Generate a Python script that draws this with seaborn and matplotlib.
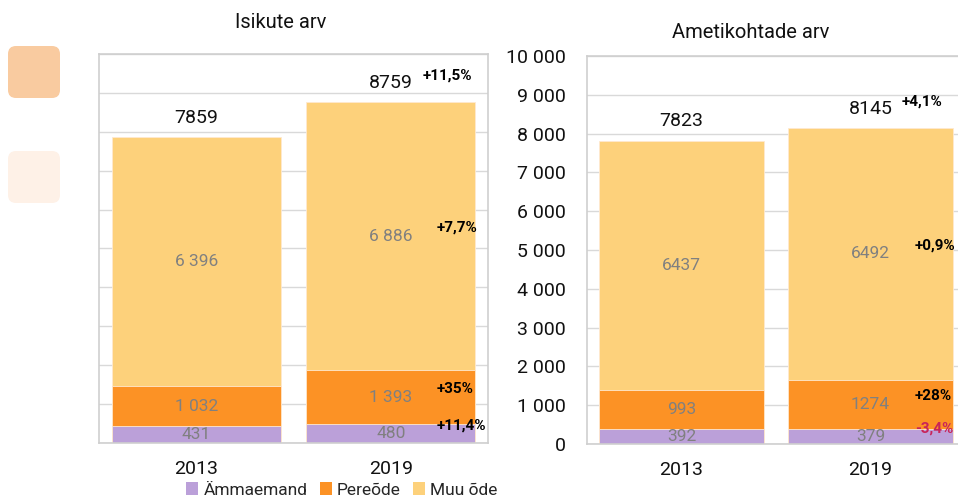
import numpy as np
import pandas as pd
import seaborn as sns
import matplotlib.pyplot as plt
from matplotlib.patches import Patch, FancyBboxPatch
from matplotlib.ticker import FuncFormatter, MultipleLocator

years = ["2013", "2019"]
series = ["Ämmaemand", "Pereõde", "Muu õde"]
colors = ["#BBA0D9", "#FC9225", "#FDD17B"]

isikud_ammaemand = [431, 480]
isikud_pereode = [1032, 1393]
isikud_muu = [6396, 6886]
isikud_total = [7859, 8759]
isikud_pct = ["+11,4%", "+35%", "+7,7%", "+11,5%"]

ametikohad_ammaemand = [392, 379]
ametikohad_pereode = [993, 1274]
ametikohad_muu = [6437, 6492]
ametikohad_total = [7823, 8145]
ametikohad_pct = ["-3,4%", "+28%", "+0,9%", "+4,1%"]

sns.set_theme(style="white")
plt.rcParams["font.family"] = ["Roboto", "DejaVu Sans"]

GRID = "#D9D9D9"
LABEL_GRAY = "#808080"
NEG = "#C8245A"
WIDTH = 0.87


def space_fmt(v):
    return f"{int(v):,}".replace(",", " ")


def stacked_panel(ax, parts, totals, pct, spaced):
    df = pd.DataFrame({"year": years})
    cum = np.zeros(len(years))
    cums = []
    for p in parts:
        cum = cum + np.array(p)
        cums.append(cum.copy())
    # draw from the top segment down so lower segments sit on top
    for i in reversed(range(len(parts))):
        df["v"] = cums[i]
        sns.barplot(data=df, x="year", y="v", color=colors[i], width=WIDTH,
                    saturation=1, ax=ax, zorder=2, edgecolor="#FFE9D0",
                    linewidth=0.6)
    ax.set_xlim(-0.5, 1.5)
    ax.set_ylim(0, 10000)
    ax.yaxis.set_major_locator(MultipleLocator(1000))
    ax.grid(axis="y", color=GRID, lw=1)
    ax.set_axisbelow(True)
    for s in ax.spines.values():
        s.set_color("#CFCFCF")
        s.set_linewidth(1.2)
    ax.set_xlabel("")
    ax.set_ylabel("")
    ax.tick_params(axis="x", length=0, pad=12, labelsize=14, labelcolor="#111111")

    # segment labels
    for i, p in enumerate(parts):
        base = cums[i] - np.array(p)
        for j, v in enumerate(p):
            txt = space_fmt(v) if spaced else str(v)
            ax.text(j, base[j] + v / 2, txt, ha="center", va="center",
                    color=LABEL_GRAY, fontsize=12.5, zorder=5)
    # totals
    for j, t in enumerate(totals):
        ax.annotate(str(t), (j, cums[-1][j]), xytext=(0, 14),
                    textcoords="offset points", ha="center", va="center",
                    fontsize=14, color="#111111")
    # change labels on the 2019 bar
    xr = 1 + WIDTH / 2 - 0.2
    for i, p in enumerate(parts):
        base = cums[i][1] - p[1]
        lab = pct[i]
        ax.annotate(lab, (xr, base + p[1] / 2), xytext=(0, 6),
                    textcoords="offset points", ha="left", va="center",
                    fontsize=11, fontweight="bold",
                    color=NEG if lab.startswith("-") else "black", zorder=6)
    ax.annotate(pct[-1], (xr - 0.07, cums[-1][1]), xytext=(0, 19),
                textcoords="offset points", ha="left", va="center",
                fontsize=11, fontweight="bold", color="black")


fig = plt.figure(figsize=(9.58, 5.01), dpi=100)
ax1 = fig.add_axes([99 / 958, 58 / 501, 389 / 958, 389 / 501])
ax2 = fig.add_axes([587 / 958, 57 / 501, 378 / 958, 388 / 501])

stacked_panel(ax1, [isikud_ammaemand, isikud_pereode, isikud_muu],
              isikud_total, isikud_pct, spaced=True)
ax1.tick_params(axis="y", length=0, labelleft=False)

stacked_panel(ax2, [ametikohad_ammaemand, ametikohad_pereode, ametikohad_muu],
              ametikohad_total, ametikohad_pct, spaced=False)
ax2.yaxis.set_major_formatter(FuncFormatter(lambda v, _: space_fmt(v)))
ax2.tick_params(axis="y", length=0, pad=15, labelsize=14, labelcolor="#111111")

fig.text(281 / 958, 1 - 23 / 501, "Isikute arv", ha="center", va="center",
         fontsize=14.5, color="#111111")
fig.text(751 / 958, 1 - 33 / 501, "Ametikohtade arv", ha="center", va="center",
         fontsize=14.5, color="#111111")

handles = [Patch(facecolor=c, edgecolor="none", label=s) for c, s in zip(colors, series)]
fig.legend(handles=handles, loc="center", bbox_to_anchor=(342 / 958, 11 / 501),
           ncol=3, frameon=False, fontsize=12.5, handlelength=0.7,
           handleheight=0.7, handletextpad=0.3, columnspacing=0.7,
           borderpad=0, borderaxespad=0)

# decorative rounded squares on the left
for ytop, fc in [(46, "#F9CBA0"), (151, "#FEF1E7")]:
    fig.patches.append(FancyBboxPatch(
        (0.14, (501 - ytop - 46) / 100), 0.40, 0.40,
        boxstyle="round,pad=0.06,rounding_size=0.08",
        transform=fig.dpi_scale_trans, facecolor=fc, edgecolor="none"))

fig.savefig("out.png", dpi=100)
